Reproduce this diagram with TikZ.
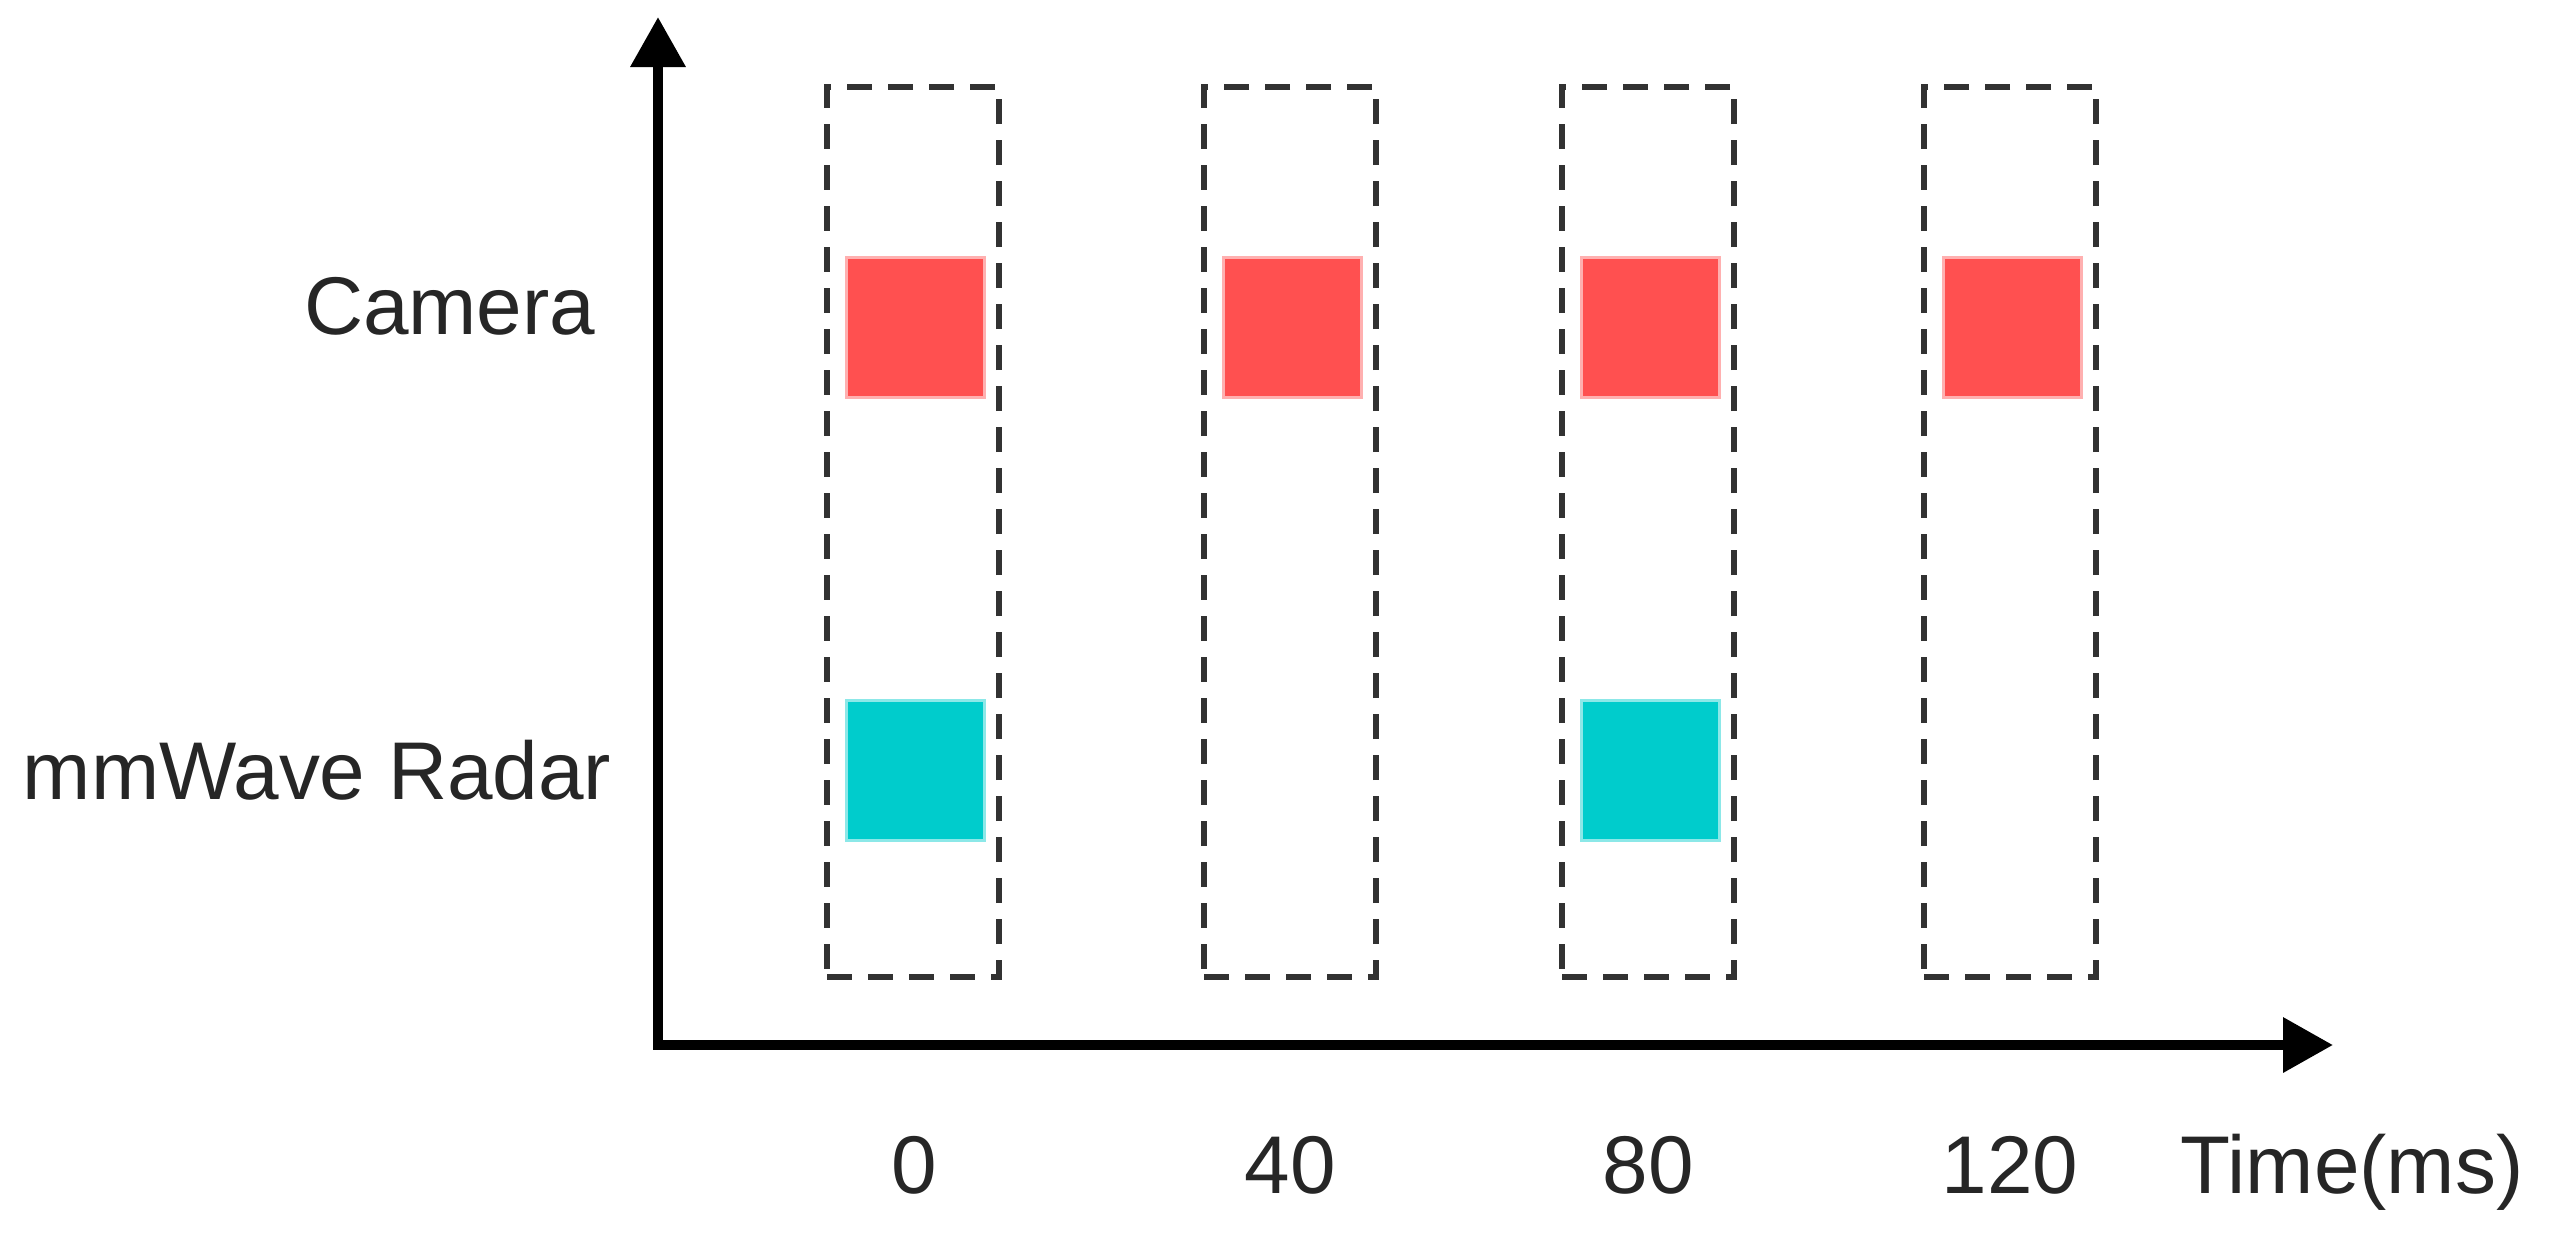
\documentclass[tikz,border=0pt]{standalone}
\usepackage{fontspec}
\setmainfont{Liberation Sans}
\usetikzlibrary{arrows.meta}
\definecolor{camred}{RGB}{255,80,80}
\definecolor{radteal}{RGB}{0,204,204}
\definecolor{dashgray}{RGB}{50,50,50}
\tikzset{
  lbl/.style={font=\fontsize{23.3}{28}\selectfont, inner sep=0pt, text=black!85},
  framebox/.style={draw=dashgray, line width=0.6mm, dash pattern=on 2.5mm off 1.6mm, minimum width=1.72cm, minimum height=8.9cm, inner sep=0pt},
  cambox/.style={fill=camred, draw=camred!45, line width=0.3mm, minimum width=1.38cm, minimum height=1.40cm, inner sep=0pt},
  radbox/.style={fill=radteal, draw=radteal!45, line width=0.3mm, minimum width=1.38cm, minimum height=1.40cm, inner sep=0pt},
  axis/.style={line width=1mm, line cap=rect, -{Triangle[length=5mm,width=5.3mm]}}
}
\begin{document}
\begin{tikzpicture}
\useasboundingbox (0,0) rectangle (25.5,-12.44);
% axes
\coordinate (o) at (6.58,-10.45);
\coordinate (ytop) at (6.58,-0.17);
\coordinate (xend) at (23.33,-10.45);
\draw[axis] (o) -- (ytop);
\draw[axis] (o) -- (xend);
% dashed frames
\node[framebox] (f1) at (9.13,-5.32) {};
\node[framebox] (f2) at (12.90,-5.32) {};
\node[framebox] (f3) at (16.48,-5.32) {};
\node[framebox] (f4) at (20.10,-5.32) {};
% camera frames
\node[cambox] (c1) at (9.15,-3.27) {};
\node[cambox] (c2) at (12.92,-3.27) {};
\node[cambox] (c3) at (16.50,-3.27) {};
\node[cambox] (c4) at (20.12,-3.27) {};
% radar frames
\node[radbox] (r1) at (9.15,-7.70) {};
\node[radbox] (r3) at (16.50,-7.70) {};
% labels
\node[lbl, anchor=base east] (cam) at (5.96,-3.34) {Camera};
\node[lbl, anchor=base east] (rad) at (6.12,-7.99) {mmWave Radar};
\node[lbl, anchor=base] (t0) at (9.14,-11.93) {0};
\node[lbl, anchor=base] (t40) at (12.90,-11.93) {40};
\node[lbl, anchor=base] (t80) at (16.48,-11.93) {80};
\node[lbl, anchor=base] (t120) at (20.10,-11.93) {120};
\node[lbl, anchor=base west] (tl) at (21.80,-11.93) {Time(ms)};
\end{tikzpicture}
\end{document}
